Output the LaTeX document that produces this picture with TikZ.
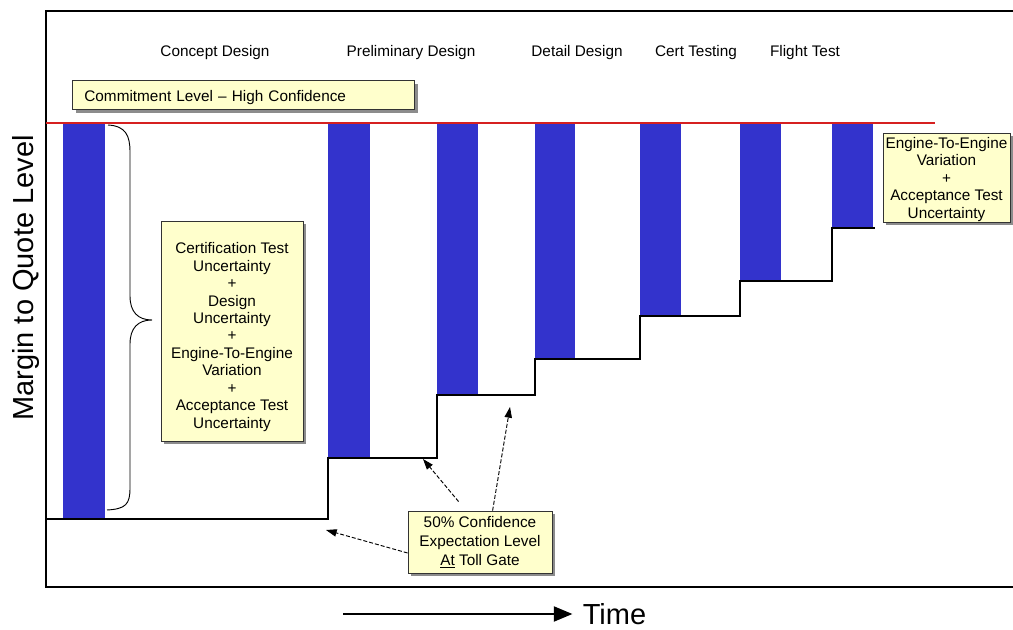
\documentclass[tikz,border=0pt]{standalone}
\usepackage{fontspec}
\setmainfont{Liberation Sans}
\usetikzlibrary{arrows.meta,shadows}

\definecolor{barblue}{RGB}{51,51,204}
\definecolor{linered}{RGB}{214,32,32}
\definecolor{notefill}{RGB}{255,255,204}

\begin{document}
\begin{tikzpicture}[x=0.75pt,y=-0.75pt,
  every node/.style={font=\fontsize{11.5}{13.1}\selectfont, inner sep=0pt},
  note/.style={draw=black!80, line width=0.6pt, fill=notefill, align=center,
    drop shadow={shadow xshift=2.6pt, shadow yshift=-2.6pt, fill=black!45, opacity=1}},
  bar/.style={fill=barblue},
  stair/.style={line width=2.2pt, line join=miter},
  frameline/.style={line width=2.2pt},
  pointer/.style={line width=0.7pt, dash pattern=on 3pt off 1.5pt,
    -{Triangle[length=8pt,width=5.5pt]}},
  bigtext/.style={font=\fontsize{21.75}{24}\selectfont},
]
\useasboundingbox (0,0) rectangle (1013,630);

% chart frame
\draw[frameline] (1013,11) -- (46,11) -- (46,587) -- (1013,587);

% phase headings
\node (p1) at (215,53) {Concept Design};
\node (p2) at (411,53) {Preliminary Design};
\node (p3) at (577,53) {Detail Design};
\node (p4) at (696,53) {Cert Testing};
\node (p5) at (805,53) {Flight Test};

% margin bars hanging from the commitment level
\fill[bar] (63,123) rectangle (105,518);
\fill[bar] (328,123) rectangle (370,458);
\fill[bar] (437,123) rectangle (478,395);
\fill[bar] (535,123) rectangle (575,359);
\fill[bar] (640,123) rectangle (681,316);
\fill[bar] (740,123) rectangle (781,281);
\fill[bar] (832,123) rectangle (873,228);

% commitment level
\draw[line width=2.2pt, linered] (46,123) -- (935,123);

% expectation staircase
\draw[stair] (46,519) -- (328,519) -- (328,458) -- (437,458) -- (437,395)
  -- (535,395) -- (535,359) -- (640,359) -- (640,316) -- (740,316)
  -- (740,281) -- (832,281) -- (832,228) -- (875,228);

% brace spanning the first bar
\draw[line width=0.7pt] (108,125) .. controls (126,126) and (130,136) .. (130,152)
  -- (130,296) .. controls (130,312) and (138,320) .. (152,320)
  .. controls (138,320) and (130,328) .. (130,344)
  -- (130,488) .. controls (130,504) and (126,509) .. (107,510);

% notes
\node[note, anchor=north west, minimum width=256.5pt, minimum height=21.75pt,
  text width=238.5pt, align=left, inner xsep=9pt, text height=12pt, text depth=2.5pt]
  (commit) at (72,80)
  {Commitment Level -- High Confidence};

\node[note, minimum width=106.5pt, minimum height=165pt] (unc) at (232,331)
  {\rule{0pt}{17.3pt}Certification Test\\Uncertainty\\+\\Design\\Uncertainty\\+\\Engine-To-Engine\\Variation\\+\\Acceptance Test\\Uncertainty};

\node[note, minimum width=95.25pt, minimum height=66.75pt] (final) at (946.5,177.5)
  {\rule{0pt}{10.8pt}Engine-To-Engine\\Variation\\+\\Acceptance Test\\Uncertainty};

\node[note, minimum width=108pt, minimum height=46.5pt,
  font=\fontsize{11.5}{14.2}\selectfont] (gate) at (480,542)
  {50\% Confidence\\Expectation Level\\\underline{At} Toll Gate};

% toll gate pointers
\coordinate (g1) at (326,530);
\coordinate (g2) at (423,459);
\coordinate (g3) at (510,407);
\draw[pointer] ([yshift=-8.25pt]gate.west) -- (g1);
\draw[pointer] ([xshift=38.25pt,yshift=6.75pt]gate.north west) -- (g2);
\draw[pointer] ([xshift=63.75pt]gate.north west) -- (g3);

% axis labels
\node[bigtext, rotate=90] (ylab) at (26,278) {Margin to Quote Level};
\node[bigtext] (tlab) at (614.5,614.5) {Time};
\coordinate (tstart) at (343,614);
\draw[line width=2.2pt, -{Triangle[length=14pt,width=11pt]}, shorten >=7.5pt]
  (tstart) -- (tstart -| tlab.west);
\end{tikzpicture}
\end{document}
